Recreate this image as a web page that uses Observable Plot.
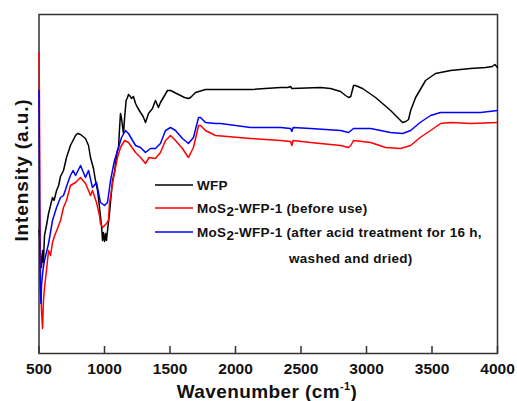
<!DOCTYPE html>
<html><head><meta charset="utf-8">
<script src="https://cdn.jsdelivr.net/npm/d3@7"></script>
<script src="https://cdn.jsdelivr.net/npm/@observablehq/plot@0.6"></script>
<style>
body{margin:0;background:#fff;}
#c{width:517px;height:401px;}
svg text{font-family:"Liberation Sans",Arial,sans-serif !important;font-weight:bold !important;}
</style></head>
<body><div id="c"></div>
<script>
// Wavenumber (cm^-1) and intensity (a.u.)
const wfpWave = [500,504,511,519,527,534,542,557,573,588,603,615,634,650,664,687,710,740,779,794,817,855,878,893,916,931,947,962,977,985,992,1000,1008,1015,1023,1038,1061,1076,1084,1099,1107,1114,1122,1130,1145,1153,1165,1176,1183,1198,1206,1221,1237,1252,1275,1295,1313,1336,1366,1389,1412,1427,1481,1504,1550,1611,1641,1657,1695,1771,1886,2115,2344,2400,2420,2430,2649,2725,2802,2840,2863,2880,2901,2916,2970,3069,3184,3260,3275,3300,3321,3337,3375,3451,3527,3642,3794,3909,3960,3980,4000];
const wfpInt  = [123,118,98,86,103,91,118,128,140,148,156,153,163,168,177,183,196,208,218,220,219,215,208,196,185,173,163,146,128,113,121,112,120,113,123,140,173,181,190,203,206,223,240,235,220,235,253,256,259,257,255,257,250,246,241,237,231,240,245,253,246,251,263,263,260,256,255,256,261,264,264,264,266,266,267,265,266,265,262,258,256,257,268,268,265,256,243,233,231,232,234,243,256,273,280,283,285,286,287,289,286];

const beforeWave = [500,503,506,512,519,527,534,542,557,573,588,603,620,641,664,687,710,740,779,817,855,878,893,908,916,939,962,969,985,1000,1015,1030,1038,1069,1099,1122,1153,1183,1237,1275,1313,1340,1389,1427,1466,1504,1542,1595,1641,1679,1718,1733,1771,1847,2115,2344,2420,2430,2440,2573,2802,2863,2880,2901,3031,3146,3260,3337,3409,3489,3565,3642,3794,4000];
const beforeInt  = [301,263,153,73,43,25,53,66,83,103,98,111,118,125,133,146,153,168,171,176,170,163,158,163,160,151,138,130,126,128,130,133,150,176,196,206,213,211,201,196,190,196,195,201,213,218,213,205,196,206,228,228,223,218,215,213,212,208,213,211,208,206,208,213,211,206,205,208,216,223,230,231,230,231];

const afterWave = [500,503,507,511,515,519,530,542,573,603,634,664,687,718,740,760,779,817,855,878,908,939,969,1000,1023,1046,1076,1107,1130,1160,1183,1237,1275,1313,1351,1389,1427,1466,1504,1542,1595,1641,1679,1718,1733,1771,1847,1886,2115,2344,2420,2430,2440,2573,2802,2863,2901,3031,3184,3275,3337,3409,3489,3565,3718,3871,4000];
const afterInt  = [263,203,93,63,50,68,83,93,110,133,146,156,158,170,178,183,178,188,176,183,166,171,151,148,151,173,193,206,216,223,220,208,206,201,205,205,210,223,226,223,215,210,216,236,236,231,230,230,226,226,225,222,226,225,223,221,225,225,221,220,223,231,238,241,241,241,243];

const xTicks = [500,1000,1500,2000,2500,3000,3500,4000];
const seriesNames = ["WFP","MoS2-WFP-1 (before use)","MoS2-WFP-1 (after acid treatment for 16 h, washed and dried)"];
const seriesColors = ["#000000","#ff0000","#0000ff"];

const rows = [];
wfpWave.forEach((w,i)=>rows.push({s:seriesNames[0],w,v:wfpInt[i]}));
beforeWave.forEach((w,i)=>rows.push({s:seriesNames[1],w,v:beforeInt[i]}));
afterWave.forEach((w,i)=>rows.push({s:seriesNames[2],w,v:afterInt[i]}));

const chart = Plot.plot({
  width:517, height:401,
  marginLeft:38.5, marginRight:20, marginTop:14, marginBottom:48,
  style:{fontFamily:"Liberation Sans, Arial, sans-serif", background:"#fff", overflow:"visible"},
  x:{domain:[500,4000]},
  y:{domain:[0,339], axis:null},
  color:{domain:seriesNames, range:seriesColors},
  marks:[
    Plot.frame({stroke:"#333", strokeWidth:1.5}),
    Plot.ruleX(xTicks,{x:d=>d, y1:0, y2:7, stroke:"#333", strokeWidth:1.5}),
    Plot.line(rows,{x:"w", y:"v", z:"s", stroke:"s", strokeWidth:1.5, curve:"linear"}),
    Plot.axisX(xTicks,{tickSize:0, tickPadding:9, fontSize:15.5, fill:"#111", label:null, tickFormat:d=>String(d)})
  ]
});
document.getElementById("c").appendChild(chart);

const svg = d3.select(chart);
// axis titles
const xt = svg.append("text").attr("x",267).attr("y",398).attr("text-anchor","middle")
  .attr("font-size",19).attr("letter-spacing",0.4).attr("fill","#111");
xt.append("tspan").text("Wavenumber (cm");
xt.append("tspan").attr("font-size",11).attr("dy",-8).text("-1");
xt.append("tspan").attr("dy",8).text(")");
svg.append("text").attr("transform","translate(28,170) rotate(-90)").attr("text-anchor","middle")
  .attr("font-size",19).attr("letter-spacing",0.9).attr("fill","#111").text("Intensity (a.u.)");

// legend
const leg = [
  {c:seriesColors[0], y:185, parts:[["WFP"]]},
  {c:seriesColors[1], y:208, parts:[["MoS"],["2","sub"],["-WFP-1 (before use)"]]},
  {c:seriesColors[2], y:232, parts:[["MoS"],["2","sub"],["-WFP-1 (after acid treatment for 16 h,"]]}
];
leg.forEach(l=>{
  svg.append("line").attr("x1",155).attr("x2",193).attr("y1",l.y).attr("y2",l.y)
    .attr("stroke",l.c).attr("stroke-width",1.5);
  const t = svg.append("text").attr("x",197).attr("y",l.y+5).attr("text-anchor","start")
    .attr("font-size",13.5).attr("letter-spacing",0.3).attr("fill","#111");
  l.parts.forEach((p,i)=>{
    const ts = t.append("tspan").text(p[0]);
    if(p[1]==="sub") ts.attr("dy",3);
    else if(i>0) ts.attr("dy",-3);
  });
});
svg.append("text").attr("x",289).attr("y",263).attr("text-anchor","start")
  .attr("font-size",13.5).attr("letter-spacing",0.3).attr("fill","#111").text("washed and dried)");
</script>
</body></html>
